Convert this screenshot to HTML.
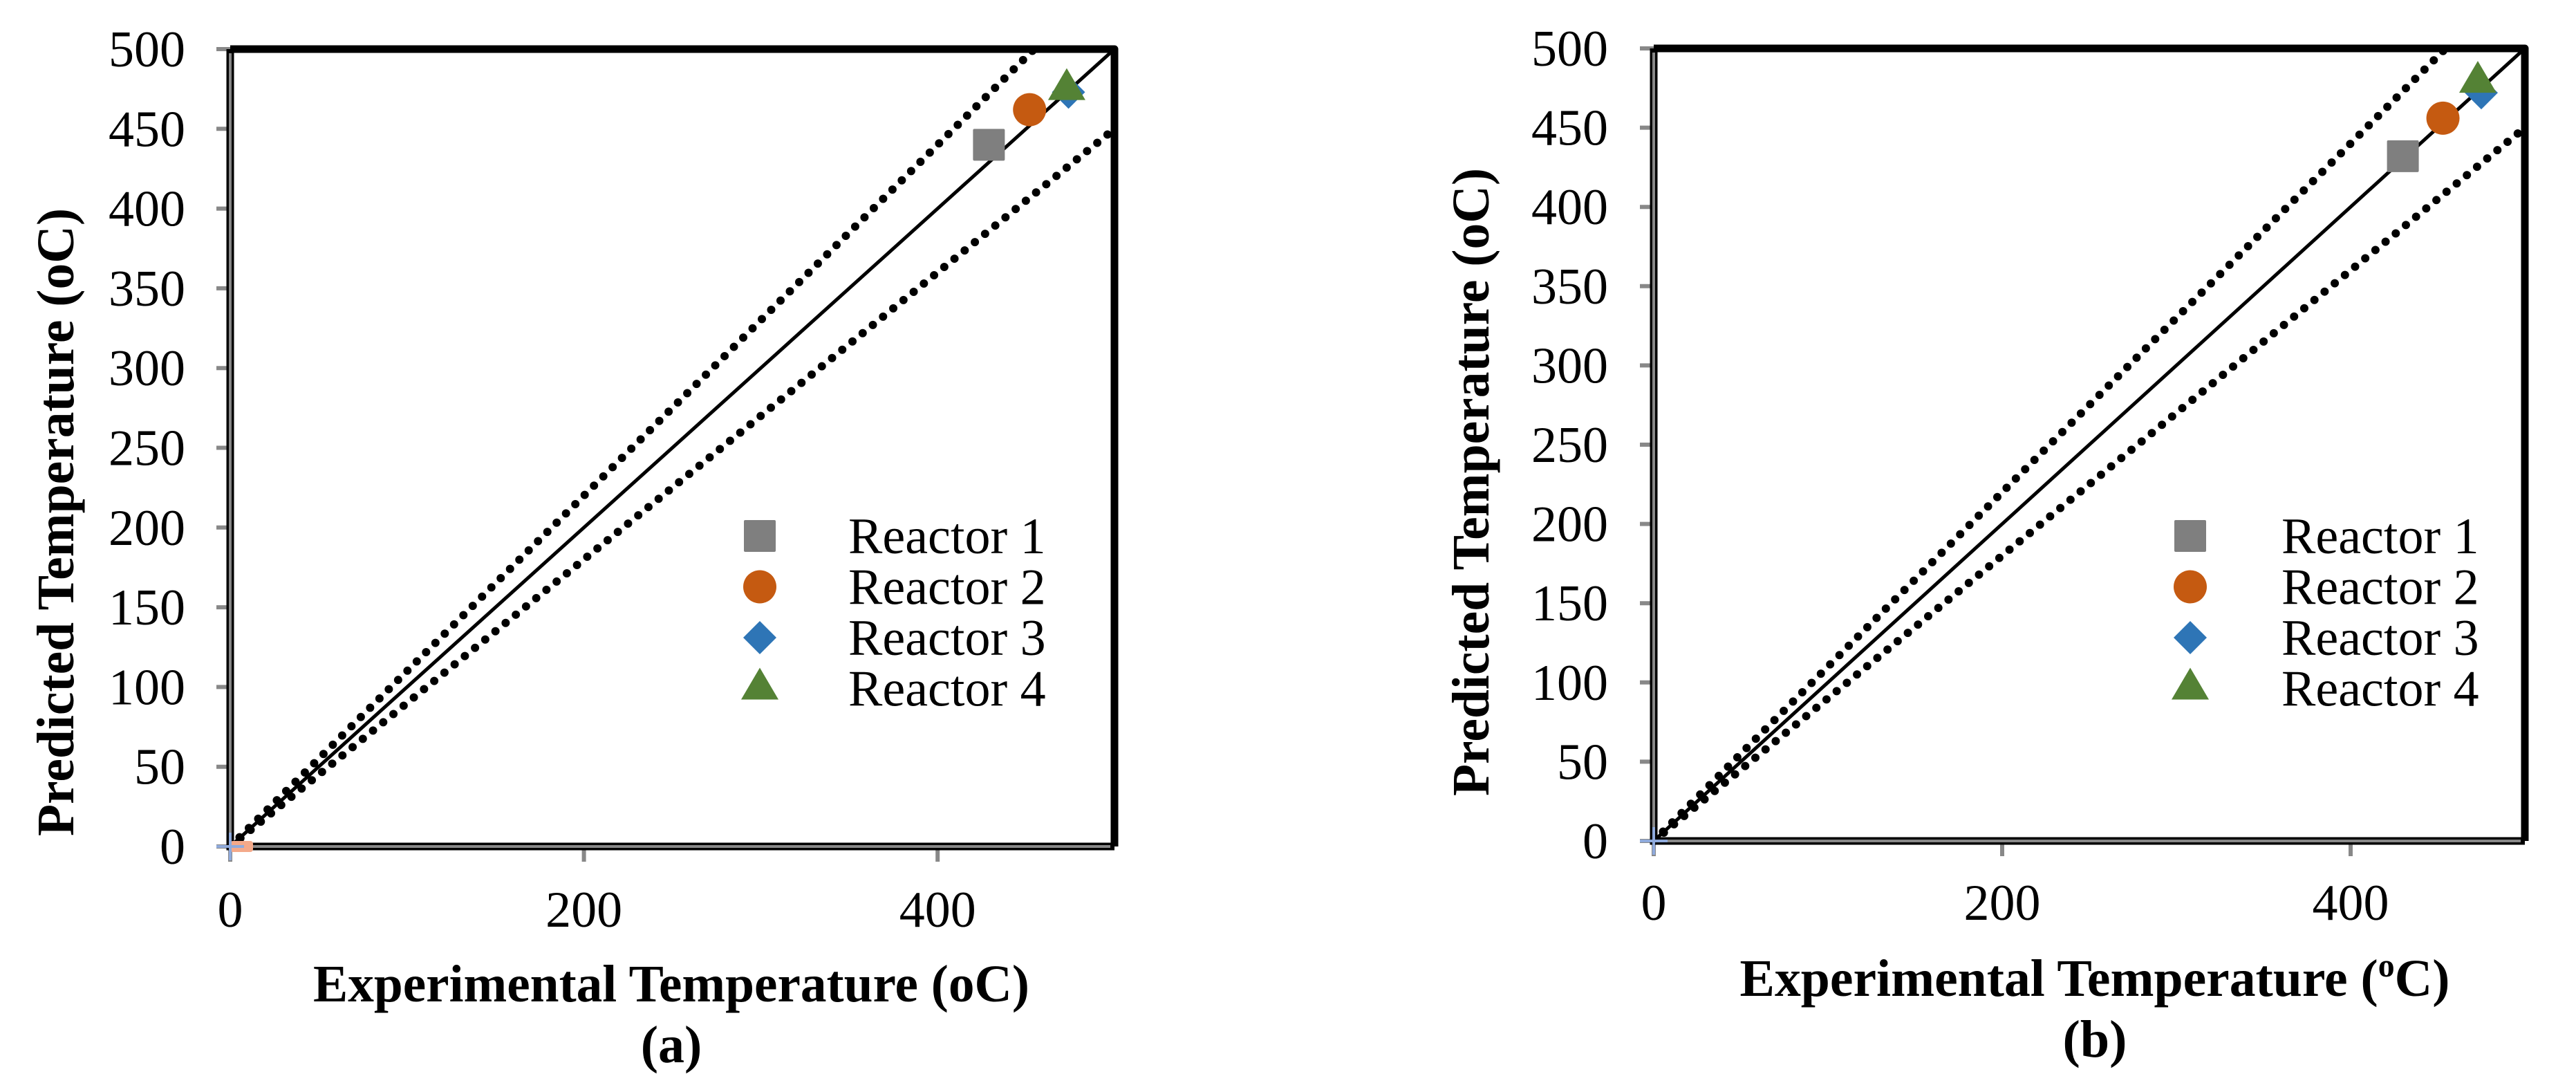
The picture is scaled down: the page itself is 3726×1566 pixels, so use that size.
<!DOCTYPE html>
<html><head><meta charset="utf-8"><style>
html,body{margin:0;padding:0;background:#fff;}
svg{display:block;}
text{font-family:"Liberation Serif","Times New Roman",serif;fill:#000;}
</style></head><body>
<svg id="fig" width="3726" height="1566" viewBox="0 0 3726 1566" xmlns="http://www.w3.org/2000/svg"></svg>
<script>
// ---- data ----
const seriesNames = ["Reactor 1","Reactor 2","Reactor 3","Reactor 4"];
const seriesColors = ["#7f7f7f","#c55a11","#2e75b6","#548235"];
const seriesShapes = ["square","circle","diamond","triangle"];
const aExpX = [429, 452, 474, 473];
const aPredY = [440, 462, 473, 475];
const bExpX = [430, 453, 475, 473];
const bPredY = [432, 456, 472, 479];
const yTicks = [0,50,100,150,200,250,300,350,400,450,500];
const xTicks = [0,200,400];
const upperFactor = 1.1;
const lowerFactor = 0.9;

const NS="http://www.w3.org/2000/svg";
const svg=document.getElementById('fig');
function mk(tag,attrs,parent){const e=document.createElementNS(NS,tag);for(const k in attrs)e.setAttribute(k,attrs[k]);(parent||svg).appendChild(e);return e;}

function drawChart(cfg){
  const g=mk('g',{});
  
  
  const sx=v=>cfg.x0+(cfg.x1-cfg.x0)*v/500;
  const sy=v=>cfg.y0-(cfg.y0-cfg.y1)*v/500;
  yTicks.forEach(t=>{
    const l=mk('line',{x1:cfg.x0-20,x2:cfg.x0,y1:sy(t),y2:sy(t),stroke:'#888',"stroke-width":6},g);
    
    
    const tx=mk('text',{x:cfg.ylabX,y:sy(t)+25,"font-size":74,"text-anchor":"end"},g);
    tx.textContent=t;
    
    
  });
  xTicks.forEach(t=>{
    const l=mk('line',{x1:sx(t),x2:sx(t),y1:cfg.y0,y2:cfg.y0+22,stroke:'#888',"stroke-width":6},g);
    
    
    const tx=mk('text',{x:sx(t),y:cfg.xlabY,"font-size":74,"text-anchor":"middle"},g);
    tx.textContent=t;
    
    
  });
  const fr=mk('path',{d:`M${cfg.x0} ${cfg.y1} H${cfg.x1} V${cfg.y0}`,fill:'none',stroke:'#000',"stroke-width":11,"stroke-linejoin":"round"},g);
  
  
  const ax=mk('path',{d:`M${cfg.x0} ${cfg.y1} V${cfg.y0} H${cfg.x1}`,fill:'none',stroke:'#000',"stroke-width":11},g);
  
  
  mk('path',{d:`M${cfg.x0} ${cfg.y1+6} V${cfg.y0} H${cfg.x1-6}`,fill:'none',stroke:'#888',"stroke-width":4},g);
  const ideal=mk('line',{x1:sx(0),y1:sy(0),x2:sx(500),y2:sy(500),stroke:'#000',"stroke-width":5},g);
  
  
  const up=mk('line',{x1:sx(0),y1:sy(0),x2:sx(500/upperFactor),y2:sy(500),stroke:'#000',"stroke-width":12,"stroke-linecap":"round","stroke-dasharray":"0 19"},g);
  
  
  const lo=mk('line',{x1:sx(0),y1:sy(0),x2:sx(497),y2:sy(497*lowerFactor),stroke:'#000',"stroke-width":12,"stroke-linecap":"round","stroke-dasharray":"0 19"},g);
  
  
  if(cfg.salmon){
    const s=mk('rect',{x:sx(0),y:sy(0)-8,width:33,height:16,rx:4,fill:'#f4a98a'},g);
    
    
  }
  const c1=mk('path',{d:`M${sx(0)-20} ${sy(0)} H${sx(0)+20} M${sx(0)} ${sy(0)-20} V${sy(0)+20}`,stroke:'#8faadc',"stroke-width":4},g);
  
  
  function marker(shape,cx,cy,color,parent,name){
    let e;
    if(shape==='square') e=mk('rect',{x:cx-23,y:cy-23,width:46,height:46,rx:2,fill:color},parent);
    else if(shape==='circle') e=mk('circle',{cx:cx,cy:cy,r:24,fill:color},parent);
    else if(shape==='diamond') e=mk('polygon',{points:`${cx},${cy-24} ${cx+24},${cy} ${cx},${cy+24} ${cx-24},${cy}`,fill:color},parent);
    else e=mk('polygon',{points:`${cx},${cy-30} ${cx+27},${cy+16} ${cx-27},${cy+16}`,fill:color},parent);
    
    
    return e;
  }
  seriesNames.forEach((n,i)=>{
    marker(seriesShapes[i],sx(cfg.xs[i]),sy(cfg.ys[i]),seriesColors[i],g,'point-reactor-'+(i+1));
  });
  const lg=mk('g',{},g);
  
  
  seriesNames.forEach((n,i)=>{
    const cy=cfg.legY+i*73.5;
    marker(seriesShapes[i],cfg.legX,cy,seriesColors[i],lg,'legend-marker-'+(i+1));
    const t=mk('text',{x:cfg.legTX,y:cy+25,"font-size":74},lg);
    t.textContent=n;
    
    
  });
  const yt=mk('text',{x:0,y:0,"font-size":76,"font-weight":"bold","text-anchor":"middle",transform:`translate(${cfg.ytX},${cfg.ytY}) rotate(-90)`,textLength:908,lengthAdjust:"spacingAndGlyphs"},g);
  yt.textContent='Predicted Temperature (oC)';
  
  
  const xt=mk('text',{x:cfg.xtX,y:cfg.xtY,"font-size":76,"font-weight":"bold","text-anchor":"middle",textLength:cfg.xtW,lengthAdjust:"spacingAndGlyphs"},g);
  if(cfg.sup){
    xt.appendChild(document.createTextNode('Experimental Temperature ('));
    const s=mk('tspan',{"font-size":48,dy:-28},xt); s.textContent='o';
    const s2=mk('tspan',{dy:28},xt); s2.textContent='C)';
  } else xt.textContent='Experimental Temperature (oC)';
  
  
  const cap=mk('text',{x:cfg.xtX,y:cfg.capY,"font-size":76,"font-weight":"bold","text-anchor":"middle"},g);
  cap.textContent=cfg.cap;
  
  
}
drawChart({id:'a',x0:333,x1:1612,y0:1224,y1:71,ylabX:268,xlabY:1340,xs:aExpX,ys:aPredY,salmon:true,
  legX:1099,legY:775,legTX:1227,ytX:106,ytY:755,xtX:971,xtY:1448,xtW:1036,capY:1536,cap:'(a)',sup:false});
drawChart({id:'b',x0:2392,x1:3652,y0:1216,y1:70,ylabX:2326,xlabY:1330,xs:bExpX,ys:bPredY,salmon:false,
  legX:3168,legY:775,legTX:3300,ytX:2153,ytY:697,xtX:3030,xtY:1440,xtW:1027,capY:1528,cap:'(b)',sup:true});
</script>
</body></html>
